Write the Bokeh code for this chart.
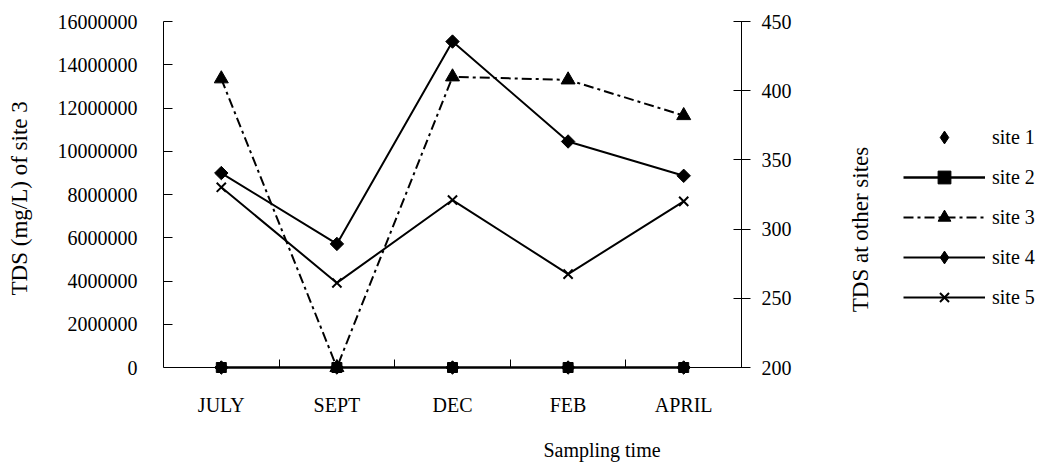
import math
import numpy as np
from bokeh.plotting import figure
from bokeh.models import (Range1d, LinearAxis, FixedTicker, Legend, LegendItem,
                          NumeralTickFormatter, Label)
from bokeh.embed import file_html
from bokeh.resources import INLINE

# ---- data ----
months = ["JULY", "SEPT", "DEC", "FEB", "APRIL"]
site1 = [0, 0, 0, 0, 0]                                      # left axis (mg/L)
site2 = [0, 0, 0, 0, 0]                                      # left axis (mg/L)
site3 = [13350000, 0, 13440000, 13300000, 11650000]          # left axis (mg/L)
site4 = [340.5, 289.3, 435.5, 363.3, 338.5]                  # right axis
site5 = [330.2, 261.1, 321.0, 267.5, 320.0]                  # right axis
left_ticks = [0, 2000000, 4000000, 6000000, 8000000, 10000000, 12000000, 14000000, 16000000]
right_ticks = [200, 250, 300, 350, 400, 450]
series_names = ["site 1", "site 2", "site 3", "site 4", "site 5"]

FONT = "Liberation Serif"
FS = "20px"
FS_T = "23px"
BLACK = "#000000"

n = len(months)
xc = [i + 0.5 for i in range(n)]          # category centres on the x scale
xb = [float(i) for i in range(1, n)]      # category boundaries

PLOT_W = 578                               # width of the category area (px)
FRAME_W = 877                              # frame also hosts the legend / right title
X_END = FRAME_W / (PLOT_W / n)

# frame padding above / below the axis extents (keeps markers and labels unclipped)
L_PER_PX = 16000000 / 346
R_PER_PX = 250 / 346
TOP_PX, BOT_PX = 12, 14

p = figure(frame_width=FRAME_W, frame_height=346 + TOP_PX + BOT_PX,
           x_range=Range1d(0, X_END),
           y_range=Range1d(-BOT_PX * L_PER_PX, 16000000 + TOP_PX * L_PER_PX),
           output_backend="svg", toolbar_location=None,
           min_border_left=163, min_border_right=0,
           min_border_top=9, min_border_bottom=84)
p.extra_y_ranges = {"r": Range1d(200 - BOT_PX * R_PER_PX, 450 + TOP_PX * R_PER_PX)}
p.xgrid.visible = False
p.ygrid.visible = False
p.outline_line_color = None
p.background_fill_color = "white"
p.border_fill_color = "white"

# ---- left axis ----
ya = p.yaxis[0]
ya.ticker = FixedTicker(ticks=left_ticks)
ya.formatter = NumeralTickFormatter(format="0")
ya.bounds = (0, 16000000)
ya.major_tick_in = 9
ya.major_tick_out = 0
ya.minor_tick_line_color = None
ya.major_label_standoff = 26
ya.axis_label = "TDS  (mg/L) of site 3"
ya.axis_label_standoff = 23

# ---- right axis (at the end of the category area) ----
ra = LinearAxis(y_range_name="r", ticker=FixedTicker(ticks=right_ticks), bounds=(200, 450))
ra.fixed_location = n
ra.major_tick_in = 8
ra.major_tick_out = 9
ra.minor_tick_line_color = None
ra.major_label_standoff = 11
p.add_layout(ra, "right")

# ---- category axis line on the zero line, ticks between categories ----
xa = p.xaxis[0]
xa.fixed_location = 0
xa.bounds = (0, n)
xa.ticker = FixedTicker(ticks=[], minor_ticks=xb)
xa.major_tick_line_color = None
xa.minor_tick_in = 8
xa.minor_tick_out = 0
xa.minor_tick_line_color = BLACK
xa.axis_line_color = BLACK

# ---- category labels and axis title (title centred on the category area) ----
xl = LinearAxis(ticker=FixedTicker(ticks=xc), bounds=(0, n))
xl.major_label_overrides = {x: m for x, m in zip(xc, months)}
xl.axis_line_color = None
xl.major_tick_line_color = None
xl.minor_tick_line_color = None
xl.major_label_standoff = 6
xl.axis_label = "Sampling time"
xl.axis_label_standoff = 20
p.add_layout(xl, "below")

for ax in [ya, ra, xl]:
    ax.major_label_text_font = FONT
    ax.major_label_text_font_size = FS
    ax.major_label_text_color = BLACK
    ax.axis_label_text_font = FONT
    ax.axis_label_text_font_size = FS_T
    ax.axis_label_text_font_style = "normal"
    ax.axis_label_text_color = BLACK
ya.axis_line_color = BLACK
ra.axis_line_color = BLACK
xl.axis_label_text_font_size = FS

# ---- series ----
r3l = p.line(xc, site3, line_color=BLACK, line_width=2, line_dash="10 4 3 4")
r3m = p.scatter(xc, site3, marker="triangle", size=14, color=BLACK)

r4l = p.line(xc, site4, y_range_name="r", line_color=BLACK, line_width=2)
r4m = p.scatter(xc, site4, y_range_name="r", marker="square", angle=math.pi / 4,
                size=9.5, color=BLACK)

r5l = p.line(xc, site5, y_range_name="r", line_color=BLACK, line_width=2)
r5m = p.scatter(xc, site5, y_range_name="r", marker="x", size=13,
                line_color=BLACK, line_width=2)

r2l = p.line(xc, site2, line_color=BLACK, line_width=2.5)
r2m = p.scatter(xc, site2, marker="square", size=10, color=BLACK)

r1m = p.scatter(xc, site1, marker="square", angle=math.pi / 4, size=9.5, color=BLACK)

# legend swatch for the diamond marker (the legend does not rotate markers)
dleg = p.scatter(x=np.array([np.nan]), y=np.array([np.nan]), marker="diamond",
                 size=14, color=BLACK)

# ---- right-axis title ----
p.add_layout(Label(x=6.03, y=6380000, text="TDS at other sites", angle=math.pi / 2,
                   text_align="center", text_baseline="middle",
                   text_font=FONT, text_font_size=FS_T, text_color=BLACK))

legend = Legend(items=[
    LegendItem(label=series_names[0], renderers=[dleg]),
    LegendItem(label=series_names[1], renderers=[r2l, r2m]),
    LegendItem(label=series_names[2], renderers=[r3l, r3m]),
    LegendItem(label=series_names[3], renderers=[r4l, dleg]),
    LegendItem(label=series_names[4], renderers=[r5l, r5m]),
], location=(740, 68))
legend.border_line_color = None
legend.background_fill_alpha = 0
legend.padding = 0
legend.margin = 0
legend.spacing = 8
legend.glyph_width = 82
legend.glyph_height = 32
legend.label_height = 32
legend.label_standoff = 7
legend.label_text_font = FONT
legend.label_text_font_size = FS
legend.label_text_color = BLACK
p.add_layout(legend)

open("out.html", "w").write(file_html(p, INLINE))
